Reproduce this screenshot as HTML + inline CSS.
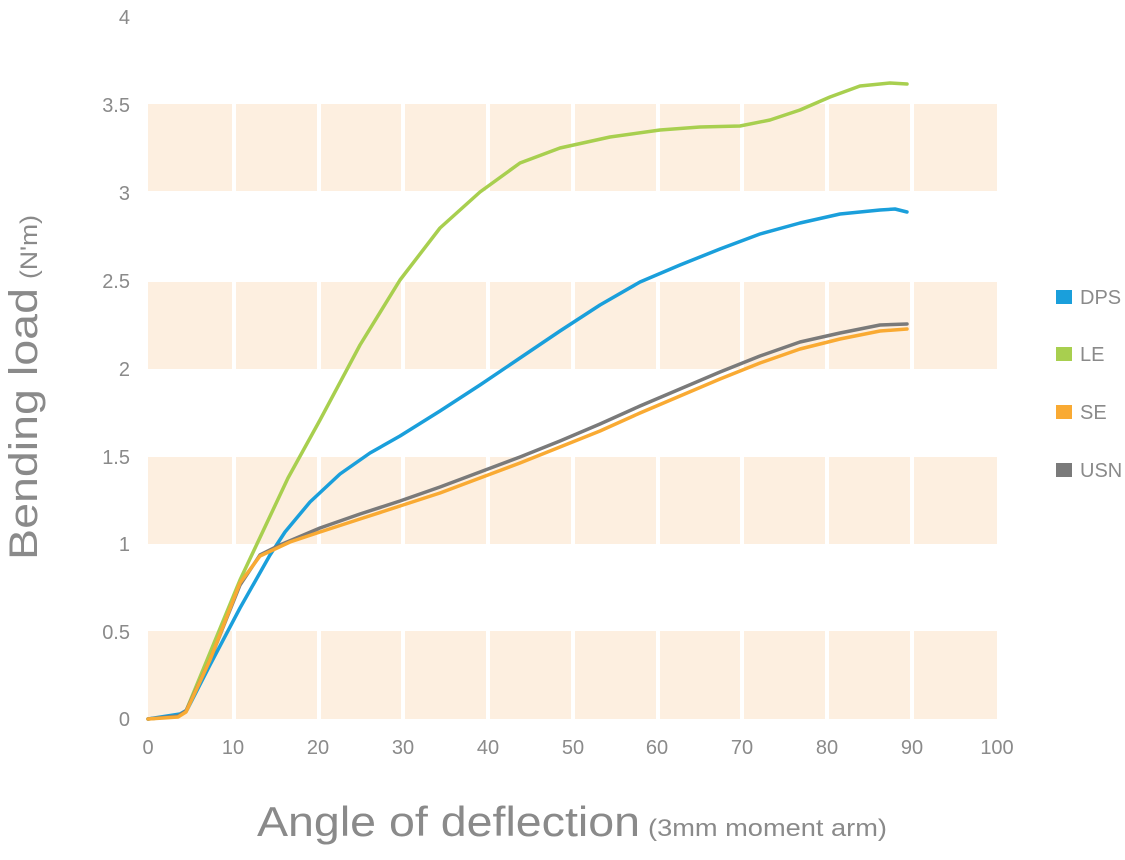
<!DOCTYPE html>
<html><head><meta charset="utf-8"><style>
body{margin:0;background:#fff;}
svg{display:block;font-family:"Liberation Sans",sans-serif;}
</style></head><body>
<svg width="1125" height="860" viewBox="0 0 1125 860">
<g fill="#fdefe0">
<rect x="148" y="631" width="849" height="88"/>
<rect x="148" y="457" width="849" height="87"/>
<rect x="148" y="282" width="849" height="87"/>
<rect x="148" y="104" width="849" height="87"/>
</g>
<g stroke="#fff" stroke-width="4">
<line x1="234" y1="100" x2="234" y2="720"/><line x1="319" y1="100" x2="319" y2="720"/>
<line x1="403" y1="100" x2="403" y2="720"/><line x1="488" y1="100" x2="488" y2="720"/>
<line x1="573" y1="100" x2="573" y2="720"/><line x1="658" y1="100" x2="658" y2="720"/>
<line x1="742" y1="100" x2="742" y2="720"/><line x1="827" y1="100" x2="827" y2="720"/>
<line x1="912" y1="100" x2="912" y2="720"/>
</g>
<g fill="#8a8a8a" font-size="20" text-anchor="end">
<text x="130" y="726">0</text><text x="130" y="639">0.5</text><text x="130" y="551">1</text>
<text x="130" y="464">1.5</text><text x="130" y="376">2</text><text x="130" y="288">2.5</text>
<text x="130" y="200">3</text><text x="130" y="112">3.5</text><text x="130" y="24">4</text>
</g>
<g fill="#8a8a8a" font-size="20" text-anchor="middle">
<text x="148" y="754">0</text><text x="233" y="754">10</text><text x="318" y="754">20</text>
<text x="403" y="754">30</text><text x="488" y="754">40</text><text x="573" y="754">50</text>
<text x="657" y="754">60</text><text x="742" y="754">70</text><text x="827" y="754">80</text>
<text x="912" y="754">90</text><text x="997" y="754">100</text>
</g>
<g fill="none" stroke-width="3.5" stroke-linejoin="round" stroke-linecap="round">
<polyline stroke="#a8cf4f" points="148,719 178,716 186,711 240,580 288,478 320,420 360,345 400,280 440,228 480,192 520,163 560,148 610,137 660,130 700,127 740,126 770,120 800,110 830,97 860,86 890,83 907,84"/>
<polyline stroke="#1a9fdb" points="148,719 180,714 187,710 210,665 240,608 270,555 285,532 310,502 340,474 370,453 400,436 440,411 480,385 520,358 560,331 600,305 640,282 680,265 720,249 760,234 800,223 840,214 880,210 895,209 907,212"/>
<polyline stroke="#7a7a7a" points="148,719 178,716 186,711 210,660 240,585 260,555 280,545 320,528 360,514 400,501 440,487 480,472 520,457 560,441 600,424 640,406 680,389 720,372 760,356 800,342 840,333 880,325 907,324"/>
<polyline stroke="#f9aa33" points="148,719 178,717 186,712 210,660 240,583 260,556 290,542 320,532 360,519 400,506 440,493 480,478 520,463 560,447 600,431 640,413 680,396 720,379 760,363 800,349 840,339 880,331 907,329"/>
</g>
<g font-size="20" fill="#8a8a8a">
<rect x="1056" y="290" width="16" height="14" fill="#1a9fdb"/><text x="1080" y="304">DPS</text>
<rect x="1056" y="347" width="16" height="14" fill="#a8cf4f"/><text x="1080" y="361">LE</text>
<rect x="1056" y="405" width="16" height="14" fill="#f9aa33"/><text x="1080" y="419">SE</text>
<rect x="1056" y="463" width="16" height="14" fill="#7a7a7a"/><text x="1080" y="477">USN</text>
</g>
<text x="257" y="836" font-size="42" fill="#8a8a8a"><tspan textLength="383" lengthAdjust="spacingAndGlyphs">Angle of deflection</tspan> <tspan font-size="24" x="648" textLength="239" lengthAdjust="spacingAndGlyphs">(3mm moment arm)</tspan></text>
<g transform="translate(37,560) rotate(-90)" fill="#8a8a8a">
<text x="0" y="0" font-size="40" textLength="272" lengthAdjust="spacingAndGlyphs">Bending load</text>
<text x="281" y="0" font-size="24" textLength="64" lengthAdjust="spacingAndGlyphs">(N'm)</text>
</g>
</svg>
</body></html>
